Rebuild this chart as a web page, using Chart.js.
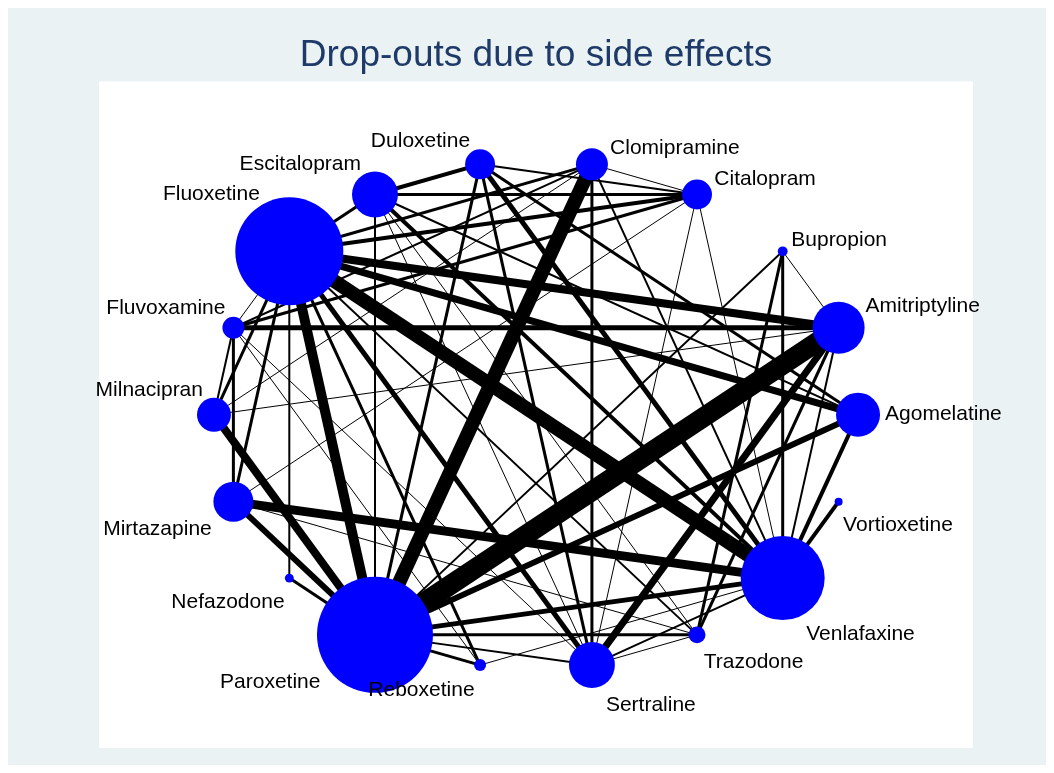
<!DOCTYPE html>
<html lang="en">
<head>
  <meta charset="UTF-8">
  <title>Drop-outs due to side effects</title>
  <script src="https://cdn.jsdelivr.net/npm/chart.js"></script>
  <style>
    body {
      margin: 0;
      background-color: #ffffff;
    }

    .chart-container {
      width: 1054px;
      height: 773px;
    }
  </style>
</head>
<body>
  <div class="chart-container">
    <canvas id="networkChart"></canvas>
  </div>

  <script>
    // treatments, placed around the circle in this order
    const drugs = ['Agomelatine', 'Amitriptyline', 'Bupropion', 'Citalopram', 'Clomipramine',
      'Duloxetine', 'Escitalopram', 'Fluoxetine', 'Fluvoxamine', 'Milnacipran', 'Mirtazapine',
      'Nefazodone', 'Paroxetine', 'Reboxetine', 'Sertraline', 'Trazodone', 'Venlafaxine', 'Vortioxetine'];

    // node weight (marker area)
    const nodeWeight = [121, 169, 6, 56, 64, 56, 132, 729, 30, 72, 100, 5, 841, 9, 132, 18, 441, 4];

    // direct comparisons and number of trials for each
    const compareA = ['Paroxetine', 'Paroxetine', 'Fluoxetine', 'Fluoxetine', 'Mirtazapine', 'Milnacipran',
      'Fluoxetine', 'Fluoxetine', 'Sertraline', 'Mirtazapine', 'Paroxetine', 'Duloxetine', 'Paroxetine',
      'Fluoxetine', 'Fluvoxamine', 'Fluoxetine', 'Escitalopram', 'Agomelatine', 'Vortioxetine', 'Escitalopram',
      'Escitalopram', 'Escitalopram', 'Fluoxetine', 'Fluoxetine', 'Fluoxetine', 'Fluoxetine', 'Duloxetine',
      'Duloxetine', 'Clomipramine', 'Paroxetine', 'Paroxetine', 'Nefazodone', 'Bupropion', 'Bupropion',
      'Trazodone', 'Duloxetine', 'Fluvoxamine', 'Fluvoxamine', 'Escitalopram', 'Fluoxetine', 'Milnacipran',
      'Paroxetine', 'Sertraline', 'Clomipramine', 'Amitriptyline', 'Bupropion', 'Escitalopram', 'Fluvoxamine',
      'Fluoxetine', 'Duloxetine', 'Mirtazapine', 'Milnacipran', 'Citalopram', 'Citalopram', 'Clomipramine',
      'Fluoxetine', 'Bupropion', 'Fluvoxamine', 'Mirtazapine', 'Reboxetine', 'Sertraline', 'Escitalopram',
      'Milnacipran', 'Escitalopram', 'Fluvoxamine'];
    const compareB = ['Amitriptyline', 'Clomipramine', 'Venlafaxine', 'Paroxetine', 'Venlafaxine', 'Paroxetine',
      'Amitriptyline', 'Agomelatine', 'Amitriptyline', 'Paroxetine', 'Agomelatine', 'Venlafaxine', 'Venlafaxine',
      'Sertraline', 'Amitriptyline', 'Citalopram', 'Duloxetine', 'Venlafaxine', 'Venlafaxine', 'Venlafaxine',
      'Citalopram', 'Fluoxetine', 'Clomipramine', 'Mirtazapine', 'Milnacipran', 'Reboxetine', 'Paroxetine',
      'Agomelatine', 'Sertraline', 'Trazodone', 'Reboxetine', 'Paroxetine', 'Venlafaxine', 'Trazodone',
      'Amitriptyline', 'Sertraline', 'Mirtazapine', 'Citalopram', 'Paroxetine', 'Nefazodone', 'Fluvoxamine',
      'Sertraline', 'Venlafaxine', 'Venlafaxine', 'Venlafaxine', 'Paroxetine', 'Agomelatine', 'Clomipramine',
      'Trazodone', 'Citalopram', 'Citalopram', 'Amitriptyline', 'Sertraline', 'Venlafaxine', 'Citalopram',
      'Fluvoxamine', 'Amitriptyline', 'Sertraline', 'Trazodone', 'Venlafaxine', 'Trazodone', 'Sertraline',
      'Clomipramine', 'Trazodone', 'Reboxetine'];
    const trials = [20, 14, 14, 10, 9, 8, 8, 7, 7, 6, 6, 5, 5, 5, 5, 4, 4, 4, 4, 4,
      3, 3, 3, 3, 3, 3, 3, 3, 3, 3, 3, 3, 3, 3, 3, 3, 3, 3,
      2, 2, 2, 2, 2, 2, 2, 2, 2, 2, 2, 2,
      1, 1, 1, 1, 1, 1, 1, 1, 1, 1, 1, 1, 1, 1, 1];

    // label position around each marker, as a clock hour
    const labelClock = [3, 2, 2, 2, 2, 11, 11, 11, 11, 11, 8, 7, 8, 7, 5, 5, 5, 5];

    const nodeColor = '#0000ff';
    const fontFamily = "'Liberation Sans', Arial, sans-serif";

    function nodePoint(name) {
      const i = drugs.indexOf(name);
      const a = i * 2 * Math.PI / drugs.length;
      return { x: Math.cos(a), y: Math.sin(a) };
    }

    function nodeRadius(i) {
      return 2 * Math.sqrt(nodeWeight[i]);
    }

    const edgeSets = compareA.map((a, k) => ({
      data: [nodePoint(a), nodePoint(compareB[k])],
      borderColor: '#000000',
      borderWidth: trials[k],
      borderCapStyle: 'butt',
      pointRadius: 0,
      pointHoverRadius: 0,
      showLine: true,
      fill: false,
      order: 1,
    }));

    const nodeSet = {
      data: drugs.map(d => nodePoint(d)),
      pointRadius: ctx => nodeRadius(ctx.dataIndex),
      pointHoverRadius: ctx => nodeRadius(ctx.dataIndex),
      pointBackgroundColor: nodeColor,
      pointBorderWidth: 0,
      showLine: false,
      order: 0,
    };

    const backgroundPlugin = {
      id: 'background',
      beforeDraw(chart) {
        const { ctx, width, height, chartArea } = chart;
        ctx.save();
        ctx.fillStyle = '#ffffff';
        ctx.fillRect(0, 0, width, height);
        ctx.fillStyle = '#eaf2f3';
        ctx.fillRect(8, 8, width - 16, height - 16);
        ctx.fillStyle = '#ffffff';
        ctx.fillRect(chartArea.left, chartArea.top, chartArea.right - chartArea.left, chartArea.bottom - chartArea.top);
        ctx.restore();
      },
    };

    const labelPlugin = {
      id: 'nodeLabels',
      afterDatasetsDraw(chart) {
        const { ctx, scales } = chart;
        ctx.save();
        ctx.font = '21px ' + fontFamily;
        ctx.fillStyle = '#000000';
        drugs.forEach((name, i) => {
          const p = nodePoint(name);
          const cx = scales.x.getPixelForValue(p.x);
          const cy = scales.y.getPixelForValue(p.y);
          const h = labelClock[i];
          const ang = (90 - h * 30) * Math.PI / 180;
          const d = nodeRadius(i) + 5;
          let ax = cx + d * Math.cos(ang);
          let ay = cy - d * Math.sin(ang);
          ctx.textAlign = (h >= 1 && h <= 5) ? 'left' : (h >= 7 && h <= 11) ? 'right' : 'center';
          if (h === 3 || h === 9) {
            ctx.textBaseline = 'middle';
          } else if (h >= 4 && h <= 8) {
            ctx.textBaseline = 'top';
            ay += 5;
          } else {
            ctx.textBaseline = 'alphabetic';
          }
          ctx.fillText(name, ax, ay);
        });
        ctx.restore();
      },
    };

    new Chart(document.getElementById('networkChart'), {
      type: 'scatter',
      data: { datasets: [nodeSet, ...edgeSets] },
      options: {
        responsive: true,
        maintainAspectRatio: false,
        animation: false,
        layout: { autoPadding: false, padding: { left: 99, right: 81, top: 0, bottom: 25 } },
        scales: {
          x: { type: 'linear', min: -1.357, max: 1.357, display: false },
          y: { type: 'linear', min: -1.311, max: 1.311, display: false },
        },
        plugins: {
          legend: { display: false },
          tooltip: { enabled: false },
          title: {
            display: true,
            text: 'Drop-outs due to side effects',
            color: '#1e3a68',
            font: { family: fontFamily, size: 37, weight: 'normal' },
            padding: { top: 34, bottom: 3 },
          },
        },
      },
      plugins: [backgroundPlugin, labelPlugin],
    });
  </script>
</body>
</html>
